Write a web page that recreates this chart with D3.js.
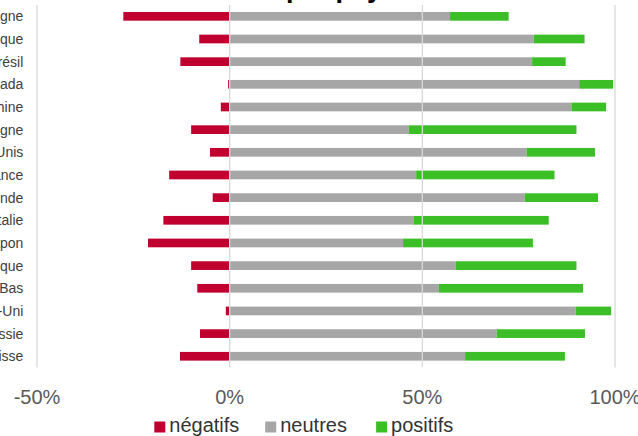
<!DOCTYPE html>
<html>
<head>
<meta charset="utf-8">
<script src="https://cdn.jsdelivr.net/npm/d3@7"></script>
<style>
  body { margin: 0; background: #fff; }
  svg { display: block; font-family: "Liberation Sans", Arial, sans-serif; }
</style>
</head>
<body>
<div id="chart"></div>
<script>
const countries = ["Allemagne", "Belgique", "Brésil", "Canada", "Chine", "Espagne", "États-Unis", "France",
                   "Inde", "Italie", "Japon", "Mexique", "Pays-Bas", "Royaume-Uni", "Russie", "Suisse"];
const negatifs = [27.6, 7.9, 12.8, 0.4, 2.3, 10.0, 5.1, 15.7, 4.4, 17.2, 21.2, 10.0, 8.4, 1.0, 7.7, 12.9];
const neutres  = [57.2, 78.9, 78.5, 90.7, 88.7, 46.5, 77.1, 48.4, 76.6, 47.7, 45.0, 58.7, 54.3, 89.8, 69.3, 61.1];
const positifs = [15.2, 13.2, 8.7, 8.8, 9.0, 43.5, 17.7, 35.9, 19.0, 35.1, 33.7, 31.3, 37.4, 9.2, 22.9, 25.9];
const xTicks = [-50, 0, 50, 100];
const seriesNames = ["négatifs", "neutres", "positifs"];
const colors = ["#C0002F", "#A6A6A6", "#3BBE26"];

const width = 638, height = 436;

const svg = d3.select("#chart").append("svg")
  .attr("width", width).attr("height", height);

const x = d3.scaleLinear().domain([-50, 100]).range([37, 615]);
const y = d3.scaleBand().domain(countries).range([5, 367.6])
  .paddingInner(0.616).paddingOuter(0.308);

const rows = countries.map((c, i) => ({
  country: c, neg: negatifs[i], neu: neutres[i], pos: positifs[i]
}));

// title (mostly out of view)
svg.append("text")
  .attr("x", 397).attr("y", -2.7)
  .attr("text-anchor", "end")
  .attr("font-size", 27).attr("font-weight", "bold")
  .attr("fill", "#000")
  .text("Avis par pays");

// bars
const g = svg.append("g");
g.selectAll("rect.neg").data(rows).join("rect")
  .attr("class", "neg")
  .attr("x", d => x(-d.neg)).attr("width", d => x(0) - x(-d.neg))
  .attr("y", d => y(d.country)).attr("height", y.bandwidth())
  .attr("fill", colors[0]);
g.selectAll("rect.neu").data(rows).join("rect")
  .attr("class", "neu")
  .attr("x", x(0)).attr("width", d => x(d.neu) - x(0))
  .attr("y", d => y(d.country)).attr("height", y.bandwidth())
  .attr("fill", colors[1]);
g.selectAll("rect.pos").data(rows).join("rect")
  .attr("class", "pos")
  .attr("x", d => x(d.neu)).attr("width", d => x(d.neu + d.pos) - x(d.neu))
  .attr("y", d => y(d.country)).attr("height", y.bandwidth())
  .attr("fill", colors[2]);

// vertical grid, drawn over the bars
svg.append("g").selectAll("line").data(xTicks).join("line")
  .attr("x1", d => x(d)).attr("x2", d => x(d))
  .attr("y1", 5).attr("y2", 367.6)
  .attr("stroke", "#d9d9d9").attr("stroke-width", 1.3);

// country labels
svg.append("g").selectAll("text").data(countries).join("text")
  .attr("x", 23.3)
  .attr("y", d => y(d) + y.bandwidth() / 2)
  .attr("dy", "0.35em")
  .attr("text-anchor", "end")
  .attr("font-size", 14)
  .attr("fill", "#404040")
  .text(d => d);

// x axis labels
svg.append("g").selectAll("text").data(xTicks).join("text")
  .attr("x", d => x(d)).attr("y", 404)
  .attr("text-anchor", "middle")
  .attr("font-size", 20)
  .attr("fill", "#595959")
  .text(d => d + "%");

// legend
const leg = svg.append("g").selectAll("g").data(seriesNames).join("g")
  .attr("transform", (d, i) => `translate(${154.3 + i * 110.9},0)`);
leg.append("rect")
  .attr("x", 0).attr("y", 421.5).attr("width", 11).attr("height", 11)
  .attr("fill", (d, i) => colors[i]);
leg.append("text")
  .attr("x", 15).attr("y", 432.3)
  .attr("font-size", 20)
  .attr("fill", "#333")
  .text(d => d);
</script>
</body>
</html>
